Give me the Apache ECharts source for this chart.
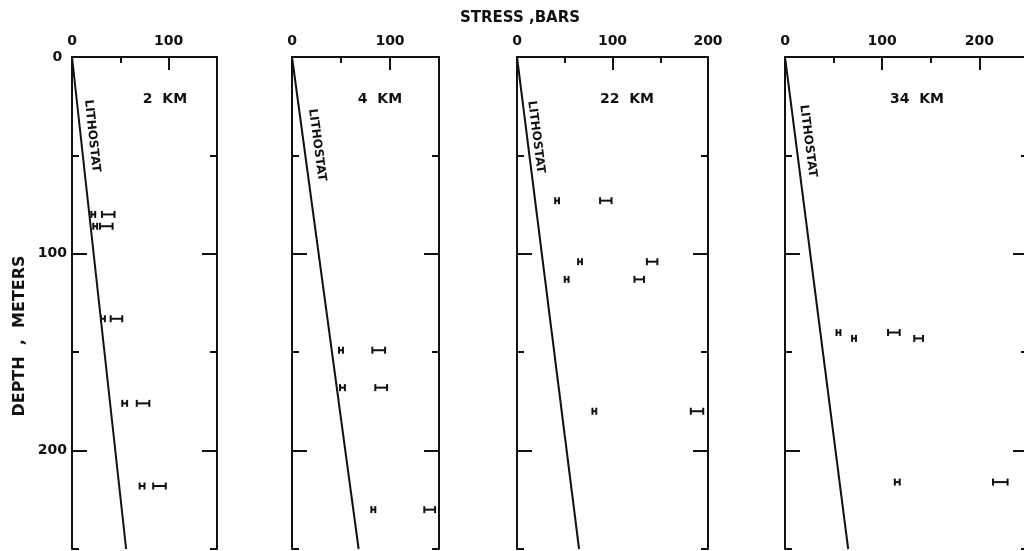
<!DOCTYPE html>
<html>
<head>
<meta charset="utf-8">
<script src="https://cdn.jsdelivr.net/npm/echarts@6/dist/echarts.min.js"></script>
<style>
  html, body { margin: 0; padding: 0; background: #fff; }
  #chart { width: 1024px; height: 551px; }
</style>
</head>
<body>
<div id="chart"></div>
<script>
// Stress profiles in four boreholes: measured stresses vs. depth, with the lithostatic line.
const panelNames = ['2  KM', '4  KM', '22  KM', '34  KM'];
const stressMax = [150, 150, 200, 250];
const depthMax = 250;

// depth axis ticks (meters)
const depthMinorTicks = [50, 150, 250];
const depthMajorTicks = [100, 200];
const depthLabels = [0, 100, 200];

// stress axis ticks (bars) per panel
const stressLabels = [[0, 100], [0, 100], [0, 100, 200], [0, 100, 200]];
const stressMinorTicks = [[50], [50], [50, 150], [50, 150, 250]];
const stressMajorTicks = [[100], [100], [100], [100, 200]];

// lithostatic stress (bars) reached at the bottom of the depth axis
const lithostatAtBottom = [56, 68, 65, 65];

// measurements: depth (m), smaller stress range [lo, hi] and larger stress range [lo, hi] (bars)
const km2Depths = [80, 86, 133, 176, 218];
const km2Low = [[20, 24], [22, 26], [30, 34], [52, 57], [70, 75]];
const km2High = [[31, 44], [29, 42], [40, 52], [67, 80], [84, 97]];

const km4Depths = [149, 168, 230];
const km4Low = [[48, 52], [49, 54], [81, 85]];
const km4High = [[82, 95], [85, 97], [135, 146]];

const km22Depths = [73, 104, 113, 180];
const km22Low = [[40, 44], [64, 68], [50, 54], [79, 83]];
const km22High = [[87, 99], [136, 147], [123, 133], [182, 195]];

const km34Depths = [140, 143, 216];
const km34Low = [[53, 57], [69, 73], [113, 118]];
const km34High = [[106, 118], [133, 142], [214, 229]];

const panelDepths = [km2Depths, km4Depths, km22Depths, km34Depths];
const panelLow = [km2Low, km4Low, km22Low, km34Low];
const panelHigh = [km2High, km4High, km22High, km34High];

// layout of the four frames (the last one runs past the right edge)
const gridLeft = [72, 292, 517, 785];
const gridWidth = [145, 147, 191, 243];
const gridTop = 57;
const gridHeight = 492;

const INK = '#111';
const FONT = '"DejaVu Sans", "Liberation Sans", sans-serif';

const grids = [], xAxes = [], yAxes = [], series = [], graphics = [];

function xAxisDef(i, ticks, len, showLine, labels) {
  return {
    type: 'value', gridIndex: i, position: 'top', min: 0, max: stressMax[i],
    splitLine: { show: false },
    axisLine: { show: showLine, onZero: false, lineStyle: { color: INK, width: 2 } },
    axisTick: { show: true, inside: true, length: len, customValues: ticks, lineStyle: { color: INK, width: 2 } },
    axisLabel: labels ? { show: true, customValues: labels, color: INK, fontFamily: FONT, fontSize: 14, fontWeight: 'bold', margin: 9 } : { show: false }
  };
}

function yAxisDef(i, side, ticks, len, showLine, labels) {
  return {
    type: 'value', gridIndex: i, position: side, inverse: true, min: 0, max: depthMax,
    splitLine: { show: false },
    axisLine: { show: showLine, onZero: false, lineStyle: { color: INK, width: 2 } },
    axisTick: { show: true, inside: true, length: len, customValues: ticks, lineStyle: { color: INK, width: 2 } },
    axisLabel: labels ? {
      show: true, customValues: labels, color: INK, fontFamily: FONT, fontSize: 14, fontWeight: 'bold', margin: 5,
      formatter: v => (v === 0 ? '0 ' : String(v))
    } : { show: false }
  };
}

function renderRange(params, api) {
  const a = api.coord([api.value(0), api.value(2)]);
  const b = api.coord([api.value(1), api.value(2)]);
  const h = 3.5;
  const style = { stroke: INK, lineWidth: 2 };
  return {
    type: 'group',
    children: [
      { type: 'line', shape: { x1: a[0], y1: a[1], x2: b[0], y2: b[1] }, style },
      { type: 'line', shape: { x1: a[0], y1: a[1] - h, x2: a[0], y2: a[1] + h }, style },
      { type: 'line', shape: { x1: b[0], y1: b[1] - h, x2: b[0], y2: b[1] + h }, style }
    ]
  };
}

for (let i = 0; i < 4; i++) {
  grids.push({
    left: gridLeft[i], top: gridTop, width: gridWidth[i], height: gridHeight,
    containLabel: false, outerBoundsMode: 'none'
  });

  const xBase = xAxes.length;
  xAxes.push(xAxisDef(i, stressMinorTicks[i], 6, true, stressLabels[i]));
  xAxes.push(xAxisDef(i, stressMajorTicks[i], 13, false, null));

  const yBase = yAxes.length;
  yAxes.push(yAxisDef(i, 'left', depthMinorTicks, 7, true, i === 0 ? depthLabels : null));
  yAxes.push(yAxisDef(i, 'left', depthMajorTicks, 15, false, null));
  yAxes.push(yAxisDef(i, 'right', depthMinorTicks, 7, true, null));
  yAxes.push(yAxisDef(i, 'right', depthMajorTicks, 15, false, null));

  // lithostatic gradient
  series.push({
    type: 'line', xAxisIndex: xBase, yAxisIndex: yBase,
    data: [[0, 0], [lithostatAtBottom[i], depthMax]],
    symbol: 'none', silent: true, animation: false,
    lineStyle: { color: INK, width: 2 }
  });

  // measured stress ranges
  const ranges = [];
  panelDepths[i].forEach((d, k) => {
    ranges.push([panelLow[i][k][0], panelLow[i][k][1], d]);
    ranges.push([panelHigh[i][k][0], panelHigh[i][k][1], d]);
  });
  series.push({
    type: 'custom', xAxisIndex: xBase, yAxisIndex: yBase,
    data: ranges, encode: { x: [0, 1], y: 2 },
    renderItem: renderRange, silent: true, animation: false
  });
}

// panel names
const nameX = [165, 380, 627, 917];
nameX.forEach((x, i) => {
  graphics.push({
    type: 'text', x: x, y: 99,
    style: { text: panelNames[i], fill: INK, font: 'bold 14px ' + FONT, align: 'center', verticalAlign: 'middle' }
  });
});

// "LITHOSTAT" labels running along each line
const lithoPos = [[92, 136], [317, 145], [536, 137], [808, 141]];
lithoPos.forEach((p, i) => {
  const slope = lithostatAtBottom[i] / stressMax[i] * gridWidth[i] / gridHeight;
  const rot = -(Math.PI / 2 - Math.atan(slope));
  graphics.push({
    type: 'text', x: p[0], y: p[1], rotation: rot,
    style: { text: 'LITHOSTAT', fill: INK, font: 'bold 12px ' + FONT, align: 'center', verticalAlign: 'middle' }
  });
});

// axis titles
graphics.push({
  type: 'text', x: 520, y: 18,
  style: { text: 'STRESS ,BARS', fill: INK, font: 'bold 15px ' + FONT, align: 'center', verticalAlign: 'middle' }
});
graphics.push({
  type: 'text', x: 20, y: 336, rotation: Math.PI / 2,
  style: { text: 'DEPTH  ,  METERS', fill: INK, font: 'bold 16px ' + FONT, align: 'center', verticalAlign: 'middle' }
});

const chart = echarts.init(document.getElementById('chart'), null, { renderer: 'canvas' });
chart.setOption({
  backgroundColor: '#fff',
  animation: false,
  grid: grids,
  xAxis: xAxes,
  yAxis: yAxes,
  series: series,
  graphic: graphics
});
</script>
</body>
</html>
